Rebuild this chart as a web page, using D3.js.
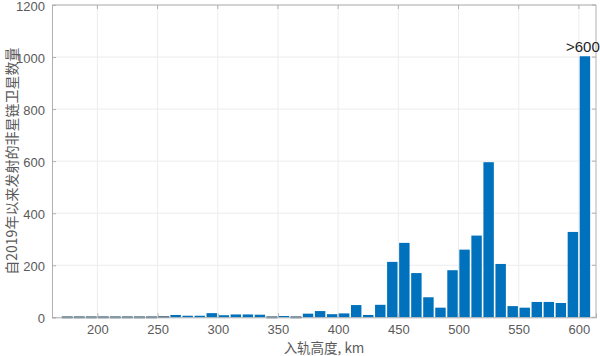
<!DOCTYPE html>
<html><head><meta charset="utf-8">
<script src="https://cdn.jsdelivr.net/npm/d3@7"></script>
<style>body{margin:0;background:#fff;}svg{display:block;}</style>
</head><body>
<svg id="chart" width="600" height="356"></svg>
<script>
const binStarts = [170,180,190,200,210,220,230,240,250,260,270,280,290,300,310,320,330,340,350,360,370,380,390,400,410,420,430,440,450,460,470,480,490,500,510,520,530,540,550,560,570,580,590,600];
const counts    = [2,2,2,2,2,2,2,2,3,9,6,6,16,8,11,11,10,2,5,2,14,24,12,15,47,9,48,213,286,170,77,37,181,260,314,596,205,43,37,59,59,55,328,1003];
const binWidth = 10;
const xTicks = [200,250,300,350,400,450,500,550,600];
const yTicks = [0,200,400,600,800,1000,1200];
const xLabel = "入轨高度, km";
const yLabel = "自2019年以来发射的非星链卫星数量";
const lastLabel = ">600";

const svg = d3.select("#chart");
const L = 52, R = 596, T = 5, B = 317.3;
const x = d3.scaleLinear().domain([162.3, 614.2]).range([L, R]);
const y = d3.scaleLinear().domain([0, 1200]).range([B, T]);
const font = "'Liberation Sans', Arial, sans-serif";

// grid
svg.append("g").selectAll("line").data(xTicks).join("line")
  .attr("x1", d => x(d)).attr("x2", d => x(d)).attr("y1", T).attr("y2", B)
  .attr("stroke", "#ececec").attr("stroke-width", 1);
svg.append("g").selectAll("line").data(yTicks).join("line")
  .attr("x1", L).attr("x2", R).attr("y1", d => y(d)).attr("y2", d => y(d))
  .attr("stroke", "#ececec").attr("stroke-width", 1);

// bars
svg.append("g").selectAll("rect").data(binStarts).join("rect")
  .attr("x", (d) => x(d) + 0.8)
  .attr("width", (d) => x(d + binWidth) - x(d) - 1.6)
  .attr("y", (d, i) => y(counts[i]))
  .attr("height", (d, i) => Math.max(1.2, B - y(counts[i])))
  .attr("fill", "#0072BD")
  .attr("stroke", (d, i) => counts[i] < 5 ? "#4a5a6a" : "none")
  .attr("stroke-width", 0.6);

// axes
const axisColor = "#b0b0b0";
const xAxis = d3.axisBottom(x).tickValues(xTicks).tickSize(-4).tickPadding(7).tickFormat(d3.format("d"));
const yAxis = d3.axisLeft(y).tickValues(yTicks).tickSize(-4).tickPadding(7).tickFormat(d3.format("d"));
const gx = svg.append("g").attr("transform", `translate(0,${B})`).call(xAxis);
const gy = svg.append("g").attr("transform", `translate(${L},0)`).call(yAxis);
[gx, gy].forEach(g => {
  g.select(".domain").attr("stroke", axisColor);
  g.selectAll(".tick line").attr("stroke", axisColor);
  g.selectAll(".tick text").attr("fill", "#5a5a5a").attr("font-size", 13).attr("font-family", font);
});
gy.selectAll(".tick text").attr("dy", "0.4em");
// top & right box
svg.append("line").attr("x1", L).attr("x2", R).attr("y1", T).attr("y2", T).attr("stroke", axisColor);
svg.append("line").attr("x1", R).attr("x2", R).attr("y1", T).attr("y2", B).attr("stroke", axisColor);
svg.append("g").selectAll("line").data(xTicks).join("line")
  .attr("x1", d => x(d)).attr("x2", d => x(d)).attr("y1", T).attr("y2", T + 4).attr("stroke", axisColor);
svg.append("g").selectAll("line").data(yTicks).join("line")
  .attr("x1", R - 4).attr("x2", R).attr("y1", d => y(d)).attr("y2", d => y(d)).attr("stroke", axisColor);

// labels
svg.append("text").attr("x", (L + R) / 2).attr("y", 353)
  .attr("text-anchor", "middle").attr("font-size", 13.5).attr("fill", "#5a5a5a")
  .attr("font-family", "'Noto Sans CJK SC', sans-serif").text(xLabel);
svg.append("text").attr("transform", `translate(17,${(T + B) / 2}) rotate(-90)`)
  .attr("text-anchor", "middle").attr("font-size", 14).attr("fill", "#5a5a5a")
  .attr("font-family", "'Noto Sans CJK SC', sans-serif").text(yLabel);

const lastIdx = binStarts.length - 1;
svg.append("text").attr("x", x(binStarts[lastIdx] + binWidth / 2) - 2).attr("y", y(counts[lastIdx]) - 4)
  .attr("text-anchor", "middle").attr("font-size", 15).attr("fill", "#222")
  .attr("font-family", font).text(lastLabel);
</script>
</body></html>
